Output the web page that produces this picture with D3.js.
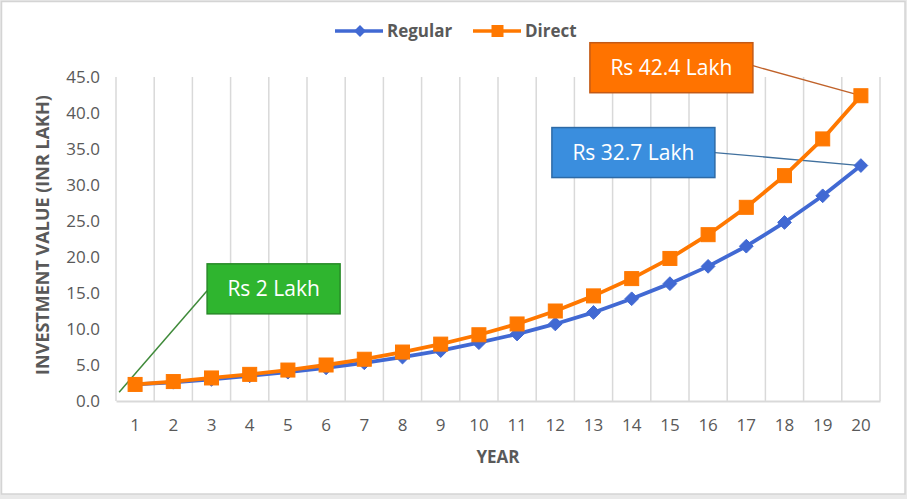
<!DOCTYPE html>
<html>
<head>
<meta charset="utf-8">
<script src="https://cdn.jsdelivr.net/npm/d3@7"></script>
<style>
  html, body { margin: 0; padding: 0; background: #e9e9e9; }
  svg { display: block; }
</style>
</head>
<body>
<div id="chart"></div>
<script>
const years = [1,2,3,4,5,6,7,8,9,10,11,12,13,14,15,16,17,18,19,20];
const regular = [2.3, 2.6, 3.0, 3.5, 4.0, 4.6, 5.3, 6.1, 7.0, 8.1, 9.3, 10.7, 12.3, 14.2, 16.3, 18.7, 21.5, 24.8, 28.5, 32.7];
const direct  = [2.3, 2.7, 3.2, 3.7, 4.3, 5.0, 5.8, 6.8, 7.9, 9.2, 10.7, 12.5, 14.6, 17.0, 19.8, 23.1, 26.9, 31.3, 36.4, 42.4];
const yTicks = [0, 5, 10, 15, 20, 25, 30, 35, 40, 45];
const seriesNames = ["Regular", "Direct"];
const calloutTexts = ["Rs 42.4 Lakh", "Rs 32.7 Lakh", "Rs 2 Lakh"];
const xTitle = "YEAR";
const yTitle = "INVESTMENT VALUE (INR LAKH)";

const W = 907, H = 499;
const margin = {left: 116, right: 27, top: 77, bottom: 98};
const blue = "#4169d3", orange = "#ff7800";
const grid = "#d9d9d9", textCol = "#595959";
const font = "'Open Sans', 'DejaVu Sans', sans-serif";

const svg = d3.select("#chart").append("svg").attr("width", W).attr("height", H);

// chart area frame
svg.append("rect").attr("x", 1.5).attr("y", 1.5).attr("width", W - 3.5).attr("height", H - 6.5)
  .attr("fill", "#ffffff").attr("stroke", "#d4d4d4").attr("stroke-width", 1.5);

const x = d3.scaleBand().domain(years).range([margin.left, W - margin.right]).padding(0);
const y = d3.scaleLinear().domain([0, 45]).range([H - margin.bottom, margin.top]);
const cx = d => x(d) + x.bandwidth() / 2;

// vertical gridlines at category boundaries
const bounds = years.map(d => x(d)).concat([x(years[years.length - 1]) + x.bandwidth()]);
svg.append("g").selectAll("line").data(bounds).join("line")
  .attr("x1", d => d).attr("x2", d => d)
  .attr("y1", y(45)).attr("y2", y(0))
  .attr("stroke", grid).attr("stroke-width", 1.5);

// x axis
const xAxis = d3.axisBottom(x).tickSize(0).tickPadding(18);
const gx = svg.append("g").attr("transform", `translate(0,${y(0)})`).call(xAxis);
gx.select(".domain").attr("stroke", grid).attr("stroke-width", 2);
gx.selectAll("text").attr("fill", textCol).attr("font-family", font).attr("font-size", 17);

// y axis
const yAxis = d3.axisLeft(y).tickValues(yTicks).tickFormat(d3.format(".1f")).tickSize(0).tickPadding(16);
const gy = svg.append("g").attr("transform", `translate(${margin.left},0)`).call(yAxis);
gy.select(".domain").remove();
gy.selectAll("text").attr("fill", textCol).attr("font-family", font).attr("font-size", 17);

// axis titles
svg.append("text").attr("x", (x.range()[0] + x.range()[1]) / 2).attr("y", 463)
  .attr("text-anchor", "middle").attr("fill", textCol).attr("font-family", font)
  .attr("font-weight", 700).attr("font-size", 17).text(xTitle);
svg.append("text").attr("transform", `translate(49,${(y(0) + y(45)) / 2 - 4}) rotate(-90)`)
  .attr("text-anchor", "middle").attr("fill", textCol).attr("font-family", font)
  .attr("font-weight", 700).attr("font-size", 18).text(yTitle);

// callout leader lines (under series)
const leaders = svg.append("g");
leaders.append("line")
  .attr("x1", cx(20) - 108).attr("y1", y(42.4) - 30)
  .attr("x2", cx(20)).attr("y2", y(42.4))
  .attr("stroke", "#c0622a").attr("stroke-width", 1.3);
leaders.append("line")
  .attr("x1", cx(20) - 146).attr("y1", y(32.7) - 13)
  .attr("x2", cx(20)).attr("y2", y(32.7))
  .attr("stroke", "#40709e").attr("stroke-width", 1.3);
leaders.append("line")
  .attr("x1", cx(1) + 72).attr("y1", y(15.3))
  .attr("x2", cx(1) - 16).attr("y2", y(1.2))
  .attr("stroke", "#3f8a3a").attr("stroke-width", 1.5);

// series
const line = d3.line().x((d, i) => cx(years[i])).y(d => y(d));
svg.append("path").datum(regular).attr("d", line).attr("fill", "none")
  .attr("stroke", blue).attr("stroke-width", 3.8).attr("stroke-linejoin", "round");
svg.append("g").selectAll("path").data(regular).join("path")
  .attr("d", d3.symbol(d3.symbolDiamond2, 120)())
  .attr("transform", (d, i) => `translate(${cx(years[i])},${y(d)})`)
  .attr("fill", blue).attr("stroke", blue).attr("stroke-width", 1);

svg.append("path").datum(direct).attr("d", line).attr("fill", "none")
  .attr("stroke", orange).attr("stroke-width", 3.8).attr("stroke-linejoin", "round");
svg.append("g").selectAll("rect").data(direct).join("rect")
  .attr("x", (d, i) => cx(years[i]) - 7).attr("y", d => y(d) - 7)
  .attr("width", 14).attr("height", 14)
  .attr("fill", orange).attr("stroke", orange).attr("stroke-width", 1);

// callout boxes
const boxes = [
  {text: calloutTexts[0], x0: cx(20) - 271, y0: y(42.4) - 53, w: 163, fill: "#ff7300", stroke: "#c35a16"},
  {text: calloutTexts[1], x0: cx(20) - 309, y0: y(32.7) - 38, w: 163, fill: "#3a8ede", stroke: "#2d6aa6"},
  {text: calloutTexts[2], x0: cx(1) + 72, y0: y(15.3) - 27, w: 133, fill: "#2fb52f", stroke: "#278a27"}
];
const bg = svg.append("g").selectAll("g").data(boxes).join("g");
bg.append("rect").attr("x", d => d.x0).attr("y", d => d.y0).attr("width", d => d.w).attr("height", 50)
  .attr("fill", d => d.fill).attr("stroke", d => d.stroke).attr("stroke-width", 1.5);
bg.append("text").attr("x", d => d.x0 + d.w / 2).attr("y", d => d.y0 + 25)
  .attr("dy", "0.36em").attr("text-anchor", "middle").attr("fill", "#ffffff")
  .attr("font-family", font).attr("font-size", 21).text(d => d.text);

// legend
const lg = svg.append("g");
const legendItems = [
  {name: seriesNames[0], color: blue, x0: 335, marker: "diamond"},
  {name: seriesNames[1], color: orange, x0: 473, marker: "square"}
];
legendItems.forEach(it => {
  const g = lg.append("g").attr("transform", `translate(${it.x0},31)`);
  g.append("line").attr("x1", 0).attr("x2", 48).attr("y1", 0).attr("y2", 0)
    .attr("stroke", it.color).attr("stroke-width", 3.5);
  if (it.marker === "diamond") {
    g.append("path").attr("d", d3.symbol(d3.symbolDiamond2, 90)()).attr("transform", "translate(25,0)")
      .attr("fill", it.color);
  } else {
    g.append("rect").attr("x", 18.5).attr("y", -6).attr("width", 12).attr("height", 12).attr("fill", it.color);
  }
  g.append("text").attr("x", 52).attr("y", 0).attr("dy", "0.35em")
    .attr("fill", textCol).attr("font-family", font).attr("font-weight", 700).attr("font-size", 17)
    .text(it.name);
});
</script>
</body>
</html>
